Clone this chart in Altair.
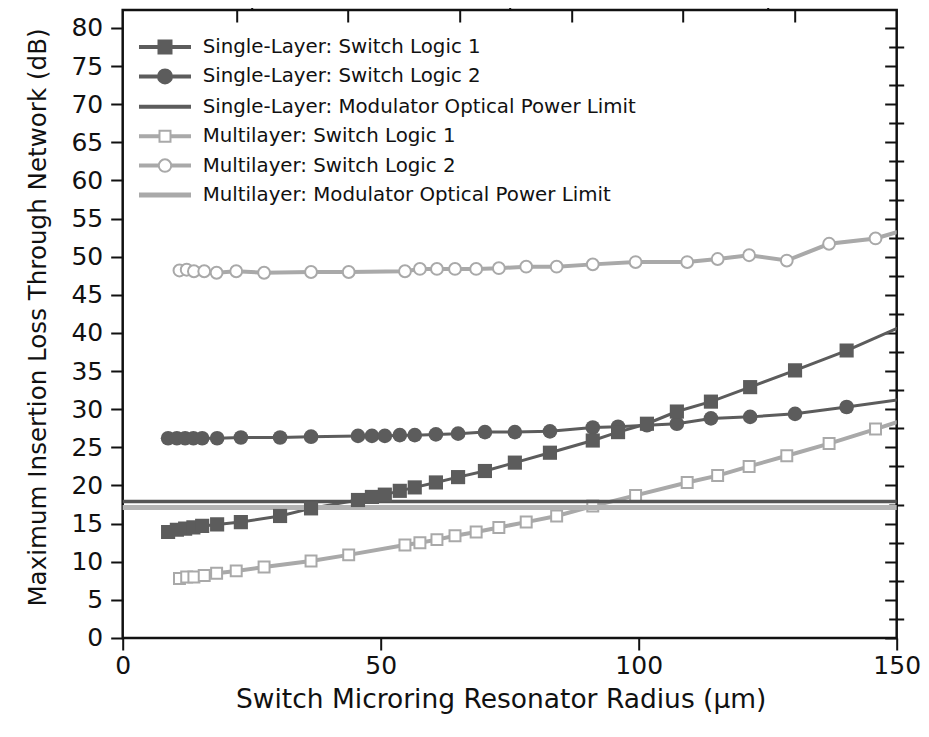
import altair as alt
import pandas as pd

FONT = "DejaVu Sans"
INK = "#111111"
DARK = "#5c5c5c"
LIGHT = "#a9a9a9"

SERIES = [
    "Single-Layer: Switch Logic 1",
    "Single-Layer: Switch Logic 2",
    "Single-Layer: Modulator Optical Power Limit",
    "Multilayer: Switch Logic 1",
    "Multilayer: Switch Logic 2",
    "Multilayer: Modulator Optical Power Limit",
]

# ---- data ----
sl_radius = [8.8, 10.5, 12.1, 13.7, 15.4, 18.3, 22.9, 30.5, 36.5, 45.6, 48.3, 50.8, 53.7, 56.6,
             60.7, 65.0, 70.2, 76.0, 82.8, 91.1, 96.0, 101.6, 107.4, 114.0, 121.6, 130.3, 140.3, 153.0]
sl_logic1 = [13.9, 14.2, 14.35, 14.5, 14.7, 14.9, 15.2, 16.0, 17.0, 18.1, 18.5, 18.8, 19.3, 19.75,
             20.4, 21.1, 21.9, 23.0, 24.3, 25.9, 27.0, 28.1, 29.7, 31.0, 32.9, 35.1, 37.7, 41.5]
sl_logic2 = [26.2, 26.2, 26.2, 26.2, 26.2, 26.2, 26.3, 26.3, 26.4, 26.5, 26.5, 26.5, 26.6, 26.6,
             26.7, 26.8, 27.0, 27.0, 27.1, 27.6, 27.7, 27.9, 28.1, 28.8, 29.0, 29.4, 30.3, 31.5]

ml_radius = [11.0, 12.4, 13.8, 15.8, 18.2, 22.0, 27.4, 36.5, 43.8, 54.7, 57.6, 60.9, 64.4,
             68.5, 72.9, 78.2, 84.1, 91.1, 99.4, 109.4, 115.3, 121.4, 128.7, 136.9, 145.9, 155.5]
ml_logic1 = [7.8, 8.0, 8.0, 8.2, 8.5, 8.8, 9.3, 10.1, 10.9, 12.2, 12.5, 12.9, 13.4,
             13.9, 14.5, 15.2, 16.0, 17.3, 18.7, 20.4, 21.3, 22.5, 23.9, 25.5, 27.4, 29.5]
ml_logic2 = [48.2, 48.3, 48.1, 48.1, 47.9, 48.1, 47.9, 48.0, 48.0, 48.1, 48.4, 48.4, 48.4,
             48.4, 48.5, 48.7, 48.7, 49.0, 49.3, 49.3, 49.7, 50.2, 49.5, 51.7, 52.4, 54.3]

sl_limit = 17.9
ml_limit = 17.1

x_ticks_major = [0, 50, 100, 150]
x_ticks_minor = [25, 75, 125]
y_ticks_major = list(range(0, 81, 5))
y_ticks_minor = [v + 2.5 for v in range(0, 80, 5)]
top_ticks = [22.1, 43.7, 65.3, 87.0, 108.6, 130.2]

# ---- legend symbols (line + marker glyphs) ----
LEGEND_PATHS = [
    "M-2,-0.08H-0.52V0.08H-2Z M0.52,-0.08H2V0.08H0.52Z M-0.52,-0.52H0.52V0.52H-0.52Z",
    "M-2,-0.08H-0.56V0.08H-2Z M0.56,-0.08H2V0.08H0.56Z M-0.56,0A0.56,0.56 0 1,1 0.56,0A0.56,0.56 0 1,1 -0.56,0Z",
    "M-2,-0.08H2V0.08H-2Z",
    "M-2,-0.08H-0.44V0.08H-2Z M0.44,-0.08H2V0.08H0.44Z M-0.44,-0.44H0.44V0.44H-0.44Z",
    "M-2,-0.08H-0.5V0.08H-2Z M0.5,-0.08H2V0.08H0.5Z M-0.5,0A0.5,0.5 0 1,1 0.5,0A0.5,0.5 0 1,1 -0.5,0Z",
    "M-2,-0.12H2V0.12H-2Z",
]
LEG_FILLS = [DARK, DARK, DARK, "white", "white", LIGHT]
LEG_STROKES = [DARK, DARK, DARK, LIGHT, LIGHT, LIGHT]


def curve(name, xs, ys):
    return pd.DataFrame({"series": name, "radius": xs, "loss": ys})


sl1 = curve(SERIES[0], sl_radius, sl_logic1)
sl2 = curve(SERIES[1], sl_radius, sl_logic2)
ml1 = curve(SERIES[3], ml_radius, ml_logic1)
ml2 = curve(SERIES[4], ml_radius, ml_logic2)
limits = pd.DataFrame({"series": [SERIES[2], SERIES[5]], "loss": [sl_limit, ml_limit]})

xscale = alt.Scale(domain=[0, 150], nice=False, zero=False)
yscale = alt.Scale(domain=[0, 82.36], nice=False, zero=False)

common_tick = dict(tickColor=INK, tickWidth=2, domain=False, grid=False)

ax_x_main = alt.Axis(values=x_ticks_major, tickSize=12, labelFontSize=25, labelFont=FONT,
                     labelColor=INK, labelPadding=4, labelFlush=False, labelOverlap=False,
                     title="Switch Microring Resonator Radius (µm)", titleFont=FONT,
                     titleFontSize=26.5, titleFontWeight="normal", titleColor=INK,
                     titleX=378, titleY=70, titleBaseline="alphabetic", **common_tick)
ax_y_main = alt.Axis(values=y_ticks_major, tickSize=12, labelFontSize=25, labelFont=FONT,
                     labelColor=INK, labelPadding=8, labelFlush=False, labelOverlap=False,
                     title="Maximum Insertion Loss Through Network (dB)", titleFont=FONT,
                     titleFontSize=24.6, titleFontWeight="normal", titleColor=INK,
                     titleX=-84, titleY=307, titleAngle=-90, titleAlign="center",
                     titleBaseline="middle", **common_tick)
ax_x_minor = alt.Axis(values=x_ticks_minor, tickSize=7, labels=False, title=None, **common_tick)
ax_y_minor = alt.Axis(values=y_ticks_minor, tickSize=7, labels=False, title=None, **common_tick)
ax_x_top = alt.Axis(orient="top", values=top_ticks, tickSize=12, offset=-12, labels=False,
                    title=None, **common_tick)
ax_y_right = alt.Axis(orient="right", values=y_ticks_major, tickSize=12, offset=-12,
                      labels=False, title=None, **common_tick)
ax_y_right_minor = alt.Axis(orient="right", values=y_ticks_minor, tickSize=8, offset=-8,
                            labels=False, title=None, **common_tick)


def X(axis=None):
    return alt.X("radius:Q", scale=xscale, axis=axis)


def Y(axis=None):
    return alt.Y("loss:Q", scale=yscale, axis=axis)


ml2_line = alt.Chart(ml2).mark_line(color=LIGHT, strokeWidth=4, clip=True).encode(
    x=X(ax_x_main), y=Y(ax_y_main))
ml1_line = alt.Chart(ml1).mark_line(color=LIGHT, strokeWidth=4, clip=True).encode(
    x=X(ax_x_minor), y=Y(ax_y_minor))
sl2_line = alt.Chart(sl2).mark_line(color=DARK, strokeWidth=3, clip=True).encode(
    x=X(ax_x_top), y=Y(ax_y_right))
sl1_line = alt.Chart(sl1).mark_line(color=DARK, strokeWidth=3, clip=True).encode(
    x=X(), y=Y(ax_y_right_minor))

ml2_pts = alt.Chart(ml2).mark_point(shape="circle", filled=True, fill="white", stroke=LIGHT,
                                    strokeWidth=2, size=140, opacity=1, clip=True).encode(
    x=X(), y=Y())
ml1_pts = alt.Chart(ml1).mark_point(shape="square", filled=True, fill="white", stroke=LIGHT,
                                    strokeWidth=2, size=120, opacity=1, clip=True).encode(
    x=X(), y=Y())
sl2_pts = alt.Chart(sl2).mark_point(shape="circle", filled=True, fill=DARK, size=215,
                                    opacity=1, clip=True).encode(x=X(), y=Y())
sl1_pts = alt.Chart(sl1).mark_point(shape="square", filled=True, fill=DARK, size=200,
                                    opacity=1, clip=True).encode(x=X(), y=Y())

ml_limit_rule = alt.Chart(limits).transform_filter(
    alt.datum.series == SERIES[5]).mark_rule(color="#b4b4b4", strokeWidth=5).encode(y=Y())
sl_limit_rule = alt.Chart(limits).transform_filter(
    alt.datum.series == SERIES[2]).mark_rule(color="#555555", strokeWidth=3.5).encode(y=Y())

leg = alt.Legend(title=None, symbolFillColor="white", symbolStrokeColor=DARK, symbolOpacity=1)
legend_layer = alt.Chart(pd.DataFrame({"series": SERIES})).mark_point(opacity=0).encode(
    shape=alt.Shape("series:N", scale=alt.Scale(domain=SERIES, range=LEGEND_PATHS), legend=leg),
    fill=alt.Fill("series:N", scale=alt.Scale(domain=SERIES, range=LEG_FILLS), legend=leg),
    stroke=alt.Stroke("series:N", scale=alt.Scale(domain=SERIES, range=LEG_STROKES), legend=leg),
)

chart = alt.layer(
    ml2_line, ml1_line, sl2_line, sl1_line,
    ml2_pts, ml1_pts,
    ml_limit_rule, sl_limit_rule,
    sl2_pts, sl1_pts,
    legend_layer,
).resolve_axis(x="independent", y="independent").properties(
    width=774, height=628,
    autosize=alt.AutoSizeParams(type="none"),
    padding={"left": 114.7, "top": 2, "right": 24, "bottom": 84},
    background="white",
).configure_view(stroke=INK, strokeWidth=2.5).configure_legend(
    orient="none", legendX=28.8, legendY=23.5, padding=0, rowPadding=5.4, labelOffset=24.2,
    symbolSize=625, symbolStrokeWidth=2, labelFontSize=19.8, labelFont=FONT, labelColor=INK,
    labelLimit=0, symbolOpacity=1,
)

chart.save("out.html", embed_options={"renderer": "svg", "actions": False})
